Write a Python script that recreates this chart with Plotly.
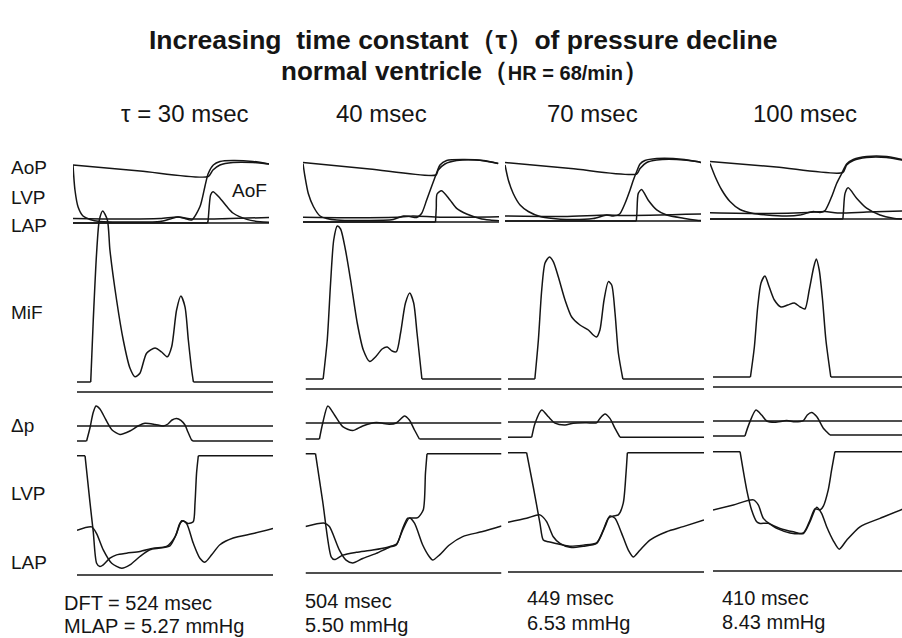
import plotly.graph_objects as go

W, H = 902, 638
INK = "#151515"
FONT = "Liberation Sans, Arial, sans-serif"

# ---------------------------------------------------------------- labels
TAU_LABELS = ["τ = 30 msec", "40 msec", "70 msec", "100 msec"]
DFT_MS = [524, 504, 449, 410]
MLAP_MMHG = [5.27, 5.50, 6.53, 8.43]

# ---------------------------------------------------------------- waveforms
# time in ms from the start of each column's sweep; one inner list per tau

# aortic pressure (mmHg)
AOP_T = [[0, 342, 690, 714, 750, 816, 918, 1000],
         [0, 340, 678, 690, 724, 784, 886, 996],
         [0, 336, 672, 689, 723, 774, 876, 978, 1000],
         [0, 338, 677, 697, 731, 799, 901, 978, 1000]]
AOP_P = [[116, 104, 93, 106, 116, 121, 121, 118],
         [119, 106, 94, 104, 116, 123, 124, 117],
         [117, 105, 94, 105, 117, 122, 123, 119, 117],
         [115, 104, 93, 108, 117, 123, 123, 118, 117]]

# left ventricular pressure, upper panel (mmHg)
LVP_T = [[0, 10, 26, 51, 87, 138, 291, 444, 495, 536, 571, 605, 648, 673, 690, 716, 750, 816, 918, 1000],
         [0, 10, 27, 53, 87, 121, 172, 300, 460, 512, 546, 580, 605, 631, 656, 678, 699, 733, 818, 920, 996],
         [0, 17, 42, 77, 119, 179, 246, 315, 450, 519, 552, 585, 612, 638, 655, 672, 689, 714, 774, 858, 978, 1000],
         [0, 26, 60, 102, 153, 221, 289, 391, 459, 527, 561, 587, 621, 646, 672, 697, 731, 799, 901, 978, 1000]]
LVP_P = [[116, 66, 32, 14, 7, 3, 2, 3, 8, 12, 9, 6, 33, 73, 99, 116, 123, 125, 123, 118],
         [117, 91, 57, 31, 12, 7, 4, 3, 5, 12, 11, 9, 17, 44, 71, 94, 114, 123, 125, 123, 117],
         [112, 82, 55, 32, 19, 9, 5, 3, 5, 12, 10, 14, 35, 62, 82, 99, 114, 121, 125, 125, 119, 117],
         [111, 85, 58, 35, 19, 11, 8, 6, 8, 15, 13, 17, 45, 71, 91, 110, 119, 125, 125, 119, 117]]

# left atrial pressure, upper panel (mmHg)
LAPU_T = [[0, 240, 444, 536, 607, 801, 1000],
          [0, 250, 500, 560, 700, 1000],
          [0, 300, 520, 600, 1000],
          [0, 300, 500, 587, 650, 800, 1000]]
LAPU_P = [[9, 8, 9, 12, 8, 9, 11],
          [9.4, 8.5, 10, 12, 9.5, 10.6],
          [10, 9, 12, 11, 14],
          [12.6, 11, 13, 15, 12, 14, 16.5]]

# aortic flow (cm/s)
AOF_T = [[0, 686, 689, 702, 714, 750, 785, 816, 887, 954, 1000],
         [0, 676, 680, 684, 707, 750, 784, 835, 903, 954, 1000],
         [0, 670, 673, 680, 697, 731, 774, 825, 910, 978, 1000],
         [0, 678, 681, 689, 705, 748, 799, 867, 935, 978, 1000]]
AOF_V = [[0, 0, 5, 70, 78, 62, 41, 25, 9, 3, 2],
         [0, 0, 35, 70, 78, 55, 34, 20, 9, 5, 3],
         [0, 0, 20, 69, 79, 52, 28, 15, 7, 2, 1],
         [0, 0, 20, 64, 78, 52, 27, 10, 2, 0, 0]]

# mitral inflow (cm/s)
MIF_T = [[0, 70, 83, 100, 114, 131, 155, 168, 202, 236, 270, 296, 321, 355, 398, 432, 461, 483, 508, 530, 551, 568, 585, 594, 1000],
         [0, 90, 111, 128, 144, 162, 179, 204, 230, 264, 295, 328, 357, 391, 417, 442, 464, 485, 510, 532, 552, 569, 594, 1000],
         [0, 137, 155, 172, 189, 211, 231, 257, 291, 325, 367, 410, 435, 452, 469, 490, 512, 529, 546, 563, 586, 1000],
         [0, 191, 211, 228, 245, 265, 287, 313, 347, 381, 415, 445, 469, 491, 514, 527, 542, 559, 576, 601, 1000]]
MIF_V = [[0, 0, 31, 64.5, 81, 85.5, 81, 66, 41, 21, 7, 2.6, 4.4, 14.4, 17, 15, 12.6, 17.6, 36, 43, 37.6, 21, 6, 0, 0],
         [0, 0, 19.5, 48, 69.5, 76.5, 75, 64.5, 49.5, 28, 14.5, 8.7, 11, 15, 16, 14, 13.7, 23, 38, 43, 38, 23, 0, 0],
         [0, 0, 19.5, 44.5, 58, 61, 58.7, 51, 39.5, 31, 27, 24.5, 22, 21, 24.5, 39.5, 48.7, 47, 33, 13, 0, 0],
         [0, 0, 15, 35, 47, 50.5, 45, 38.5, 35, 36, 37, 35, 34, 43.5, 55, 59, 53.5, 38.5, 18.5, 0, 0]]

# atrioventricular pressure difference (mmHg)
DP_T = [[0, 49, 66, 82, 97, 117, 148, 179, 219, 270, 311, 347, 398, 440, 464, 485, 508, 530, 551, 566, 585, 592, 1000],
        [0, 71, 88, 114, 148, 190, 241, 292, 361, 428, 463, 505, 530, 556, 581, 1000],
        [0, 121, 138, 172, 206, 240, 291, 333, 401, 452, 469, 495, 520, 546, 571, 1000],
        [0, 163, 185, 219, 248, 274, 316, 376, 418, 461, 481, 503, 529, 549, 563, 580, 597, 1000]]
DP_V = [[-3.75, -3.75, -0.5, 3.25, 5, 4.25, 1.5, -1, -2.1, -1.25, 0, 0.7, 0.4, 0, 0.5, 1.5, 1.9, 1.4, 0.25, -1.5, -3.5, -3.75, -3.75],
        [-4, -4, 0, 4.25, 2, -0.9, -1.9, -0.75, 0.1, -0.3, 0, 1.75, 0.75, -1.75, -4, -4],
        [-3.8, -3.8, -0.3, 3, 1.3, -0.3, -0.75, -0.3, -0.2, -0.2, 0.9, 2, 0.9, -1.6, -3.8, -3.8],
        [-3.75, -3.75, -0.6, 2.75, 1.5, 0, -0.3, 0.1, -0.2, 0.1, 1.5, 2.1, 1.1, -0.6, -1.8, -2.7, -3.5, -3.5]]

# lower panel: LVP (recorder clips at 21.3 mmHg) and LAP (mmHg)
LVL_T = [[0, 41, 66, 83, 100, 117, 134, 168, 202, 253, 321, 389, 457, 500, 525, 542, 568, 593, 602, 610, 619, 1000],
         [0, 51, 88, 131, 148, 190, 259, 343, 428, 466, 496, 522, 547, 573, 601, 612, 620, 1000],
         [0, 95, 130, 163, 180, 206, 257, 316, 384, 452, 486, 512, 537, 563, 588, 602, 609, 1000],
         [0, 138, 172, 197, 223, 240, 282, 325, 393, 461, 495, 520, 546, 563, 588, 605, 622, 1000]]
LVL_P = [[21.3, 21.3, 13, 7.7, 2.1, 1.5, 1.8, 3.0, 3.6, 3.9, 4.2, 4.8, 5.1, 6.8, 9.2, 9.7, 9.2, 9.5, 12.8, 18.2, 21.3, 21.3],
         [21.3, 21.3, 12.7, 2.9, 2.4, 3.2, 3.7, 4.1, 4.7, 5.2, 8.0, 9.8, 9.8, 9.9, 11.3, 17.8, 21.3, 21.3],
         [21.3, 21.3, 15, 8.7, 5.7, 5.4, 5.0, 4.6, 4.8, 5.2, 7.5, 9.6, 10, 10.2, 12.3, 17.6, 21.3, 21.3],
         [21.3, 21.3, 14.5, 10.9, 8.8, 8.5, 8.5, 7.6, 6.8, 6.8, 9.1, 11.1, 10.9, 11.6, 14.5, 18, 21.3, 21.3]]
LAL_T = [[0, 75, 100, 134, 177, 228, 270, 321, 372, 423, 474, 508, 534, 559, 593, 627, 653, 687, 729, 797, 899, 1000],
         [0, 97, 122, 173, 207, 241, 292, 361, 428, 463, 496, 530, 556, 598, 632, 649, 683, 734, 802, 904, 1000],
         [0, 95, 163, 197, 231, 265, 316, 384, 452, 495, 520, 546, 580, 614, 639, 673, 724, 809, 894, 1000],
         [0, 104, 206, 231, 257, 291, 342, 410, 461, 495, 529, 554, 580, 614, 644, 682, 750, 852, 964, 1000]]
LAL_P = [[8.0, 8.6, 7.4, 4.5, 2.1, 1.2, 1.8, 3.3, 4.5, 4.8, 5.2, 7.4, 9.7, 9.2, 5.7, 3.0, 2.3, 3.6, 5.4, 6.6, 7.4, 8.3],
         [8.3, 8.9, 8.3, 4.1, 2.3, 1.8, 2.6, 3.5, 4.6, 5.0, 7.7, 9.8, 8.9, 5.0, 2.9, 2.3, 3.2, 5.0, 6.5, 7.4, 8.4],
         [8.9, 9.6, 10.2, 9.0, 6.3, 5.1, 4.4, 4.6, 5.1, 8.1, 10, 9.6, 6.9, 3.9, 2.7, 3.9, 5.7, 7.2, 8.1, 9.3],
         [10.9, 11.8, 12.7, 11.8, 9.4, 8.4, 7.6, 7.0, 6.7, 8.8, 11.4, 10.3, 7.9, 5.4, 3.9, 5.5, 7.9, 9.4, 11.0, 11.4]]

# reference levels drawn across each sweep
SWEEP = [0, 1000]
MIF_REF = -5  # cm/s

# ---------------------------------------------------------------- geometry (px)
TOP_X0 = [73, 303, 505, 710]       # left edge of the upper sweep per column
LOW_X0 = [77, 305.5, 508, 713]     # left edge of the lower sweeps per column
SWEEP_PX = 196                     # px per 1000 ms
P_ZERO = [223, 222, 221, 219]      # 0 mmHg, upper panel
MIF_ZERO = [382, 379, 379, 377]
DP_ZERO = [426, 423, 422, 421]
LV_ZERO = [575, 573, 572, 571]
P_SCALE, AOF_SCALE, MIF_SCALE, DP_SCALE, LV_SCALE = 0.5, 0.4, 2.0, 4.0, 5.6  # px per unit


def x_axis(x0):
    end = min(x0 + SWEEP_PX, W)
    return dict(domain=[x0 / W, end / W], range=[0, (end - x0) / SWEEP_PX * 1000],
                visible=False, fixedrange=True)


def y_axis(zero, scale, top, bottom, anchor):
    return dict(domain=[1 - bottom / H, 1 - top / H],
                range=[(zero - bottom) / scale, (zero - top) / scale],
                visible=False, fixedrange=True, anchor=anchor)


fig = go.Figure()
layout = {}


def _line(t, v, xa, ya, shape):
    fig.add_trace(go.Scatter(
        x=t, y=v, xaxis=xa, yaxis=ya, mode="lines", hoverinfo="skip", showlegend=False,
        line=dict(color=INK, width=1.5, shape=shape, smoothing=0.7)))


def trace(t, v, xa, ya, shape="spline"):
    """Flat leading/trailing stretches are drawn straight, the rest smoothed."""
    n = len(v)
    i0 = 0
    while i0 + 1 < n and v[i0 + 1] == v[0]:
        i0 += 1
    i1 = n - 1
    while i1 - 1 > i0 and v[i1 - 1] == v[-1]:
        i1 -= 1
    if i0 > 0:
        _line(t[:i0 + 1], v[:i0 + 1], xa, ya, "linear")
    if i1 > i0:
        _line(t[i0:i1 + 1], v[i0:i1 + 1], xa, ya, shape)
    if i1 < n - 1:
        _line(t[i1:], v[i1:], xa, ya, "linear")


for c in range(4):
    xt, xl = 2 * c + 1, 2 * c + 2
    layout[f"xaxis{xt}"] = x_axis(TOP_X0[c])
    layout[f"xaxis{xl}"] = x_axis(LOW_X0[c])
    yp, ya, ym, yd, yl = (5 * c + k for k in range(1, 6))
    layout[f"yaxis{yp}"] = y_axis(P_ZERO[c], P_SCALE, 148, 232, f"x{xt}")
    layout[f"yaxis{ya}"] = y_axis(P_ZERO[c], AOF_SCALE, 148, 232, f"x{xt}")
    layout[f"yaxis{ym}"] = y_axis(MIF_ZERO[c], MIF_SCALE, 195, 398, f"x{xl}")
    layout[f"yaxis{yd}"] = y_axis(DP_ZERO[c], DP_SCALE, 396, 448, f"x{xl}")
    layout[f"yaxis{yl}"] = y_axis(LV_ZERO[c], LV_SCALE, 446, 586, f"x{xl}")
    X_T, X_L = f"x{xt}", f"x{xl}"

    # upper panel: AoP, LVP, LAP, AoF and the zero line
    trace(SWEEP, [0, 0], X_T, f"y{yp}", "linear")
    trace(LAPU_T[c], LAPU_P[c], X_T, f"y{yp}")
    trace(AOP_T[c], AOP_P[c], X_T, f"y{yp}")
    trace(LVP_T[c], LVP_P[c], X_T, f"y{yp}")
    trace(AOF_T[c], AOF_V[c], X_T, f"y{ya}")

    # mitral inflow with its reference line
    trace(MIF_T[c], MIF_V[c], X_L, f"y{ym}")
    trace(SWEEP, [MIF_REF, MIF_REF], X_L, f"y{ym}", "linear")

    # pressure difference with zero line
    trace(SWEEP, [0, 0], X_L, f"y{yd}", "linear")
    trace(DP_T[c], DP_V[c], X_L, f"y{yd}")

    # lower panel: LVP, LAP and the 0 mmHg line
    trace(LVL_T[c], LVL_P[c], X_L, f"y{yl}")
    trace(LAL_T[c], LAL_P[c], X_L, f"y{yl}")
    trace(SWEEP, [0, 0], X_L, f"y{yl}", "linear")


def text(s, x, y, size, anchor="left", bold=False):
    return dict(text=f"<b>{s}</b>" if bold else s, x=x / W, y=1 - y / H, xref="paper", yref="paper",
                xanchor=anchor, yanchor="middle", showarrow=False,
                font=dict(family=FONT, size=size, color=INK))


ann = [
    text("Increasing  time constant（τ）of pressure decline", 463, 40, 26.5, "center", True),
    text("normal ventricle（<span style='font-size:20px'>HR = 68/min</span>）", 465, 71, 26, "center", True),
]
HEAD_X = [185, 381, 592, 805]
for c in range(4):
    ann.append(text(TAU_LABELS[c], HEAD_X[c], 114, 24, "center"))

for s, y in [("AoP", 167), ("LVP", 197), ("LAP", 225), ("MiF", 312),
             ("Δp", 425), ("LVP", 493), ("LAP", 562)]:
    ann.append(text(s, 9, y, 19))
ann.append(text("AoF", 230, 190, 19))

FOOT_X = [62, 303, 525, 720]
FOOT_Y = [(603, 626), (601, 625), (598, 623), (598, 622)]
for c in range(4):
    dft = f"{DFT_MS[c]} msec"
    mlap = f"{MLAP_MMHG[c]:.2f} mmHg"
    if c == 0:
        dft, mlap = "DFT = " + dft, "MLAP = " + mlap
    ann.append(text(dft, FOOT_X[c], FOOT_Y[c][0], 20))
    ann.append(text(mlap, FOOT_X[c], FOOT_Y[c][1], 20))

fig.update_layout(width=W, height=H, margin=dict(l=0, r=0, t=0, b=0),
                  paper_bgcolor="white", plot_bgcolor="rgba(0,0,0,0)",
                  annotations=ann, showlegend=False, **layout)
fig.write_html("out.html", config={"displayModeBar": False})
